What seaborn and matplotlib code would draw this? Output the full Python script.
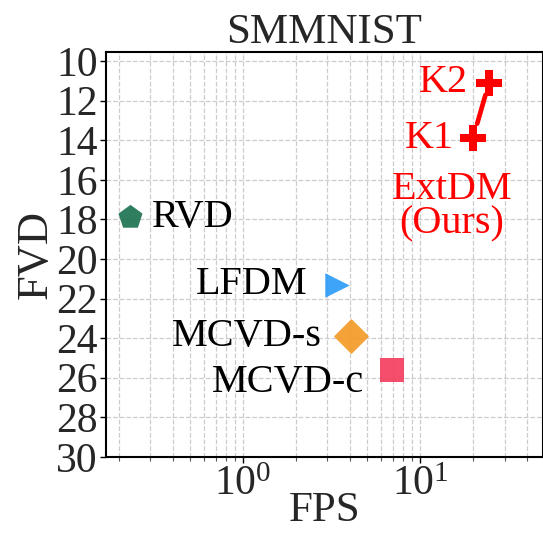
import matplotlib
matplotlib.use("Agg")
import matplotlib.pyplot as plt
import seaborn as sns
import pandas as pd

# Speed / quality of video diffusion models on SMMNIST
methods = ["RVD", "LFDM", "MCVD-s", "MCVD-c", "K1", "K2"]
fps = [0.23, 3.4, 4.1, 6.9, 19.9, 24.5]
fvd = [17.9, 21.3, 23.9, 25.6, 13.9, 11.1]
colors = ["#1e7352", "#2c9cf7", "#f39b26", "#f53f61", "#ff0000", "#ff0000"]
markers = ["p", ">", "D", "s", "P", "P"]
marker_sizes = [330, 310, 320, 310, 330, 330]
yticks = list(range(10, 31, 2))

df = pd.DataFrame({"method": methods, "FPS": fps, "FVD": fvd})

sns.set_style("whitegrid")
plt.rcParams["font.family"] = ["Liberation Serif", "DejaVu Serif"]
plt.rcParams["mathtext.fontset"] = "stix"

fig = plt.figure(figsize=(5.43, 5.33), dpi=100)
ax = fig.add_axes([0.195, 0.143, 0.805, 0.759])

# connect the two ExtDM variants
k1 = df[df.method == "K1"].iloc[0]
k2 = df[df.method == "K2"].iloc[0]
ax.annotate("", xy=(k2.FPS, k2.FVD), xytext=(k1.FPS, k1.FVD),
            arrowprops=dict(arrowstyle="-", color="#ff0000", lw=3.4,
                            shrinkA=11, shrinkB=9), zorder=2)

for i, row in df.iterrows():
    a = 1.0 if row.method.startswith("K") else 0.92
    sns.scatterplot(x=[row.FPS], y=[row.FVD], ax=ax, marker=markers[i],
                    color=colors[i], s=marker_sizes[i], linewidth=0,
                    alpha=a, zorder=3, legend=False)

ax.set_xscale("log")
ax.set_xlim(0.168, 49.5)
ax.set_ylim(30, 9.55)
ax.set_yticks(yticks)
ax.set_yticklabels([str(t) for t in yticks])

fs_ann = 29
label_offsets = {
    "RVD": ((16, 0), "left", "black"),
    "LFDM": ((-21, 0), "right", "black"),
    "MCVD-s": ((-21, 0), "right", "black"),
    "MCVD-c": ((-20, -9), "right", "black"),
    "K2": ((-15, 0), "right", "#ff0000"),
    "K1": ((-14, 0), "right", "#ff0000"),
}
for _, row in df.iterrows():
    off, ha, c = label_offsets[row.method]
    ax.annotate(row.method, (row.FPS, row.FVD), xytext=off,
                textcoords="offset points", ha=ha, va="center",
                fontsize=fs_ann, color=c)
ax.annotate("ExtDM\n(Ours)", (k1.FPS, k1.FVD), xytext=(-15, -49),
            textcoords="offset points", ha="center", va="center",
            fontsize=fs_ann, color="#ff0000", linespacing=0.9)

ax.set_title("SMMNIST", fontsize=31, pad=4)
ax.set_xlabel("FPS", fontsize=31, labelpad=-9)
ax.set_ylabel("FVD", fontsize=32, labelpad=0)
ax.tick_params(axis="both", which="major", labelsize=30, length=4,
               width=1, color="black", left=True, bottom=True, pad=2)
ax.tick_params(axis="x", which="minor", length=3, width=0.8,
               color="#555555", bottom=True)

ax.grid(True, which="major", linestyle="--", color="#cccccc", linewidth=0.9)
ax.grid(True, which="minor", axis="x", linestyle="--", color="#cccccc",
        linewidth=0.9)
for sp in ax.spines.values():
    sp.set_color("black")
    sp.set_linewidth(1.5)

fig.savefig("out.png", dpi=100)
